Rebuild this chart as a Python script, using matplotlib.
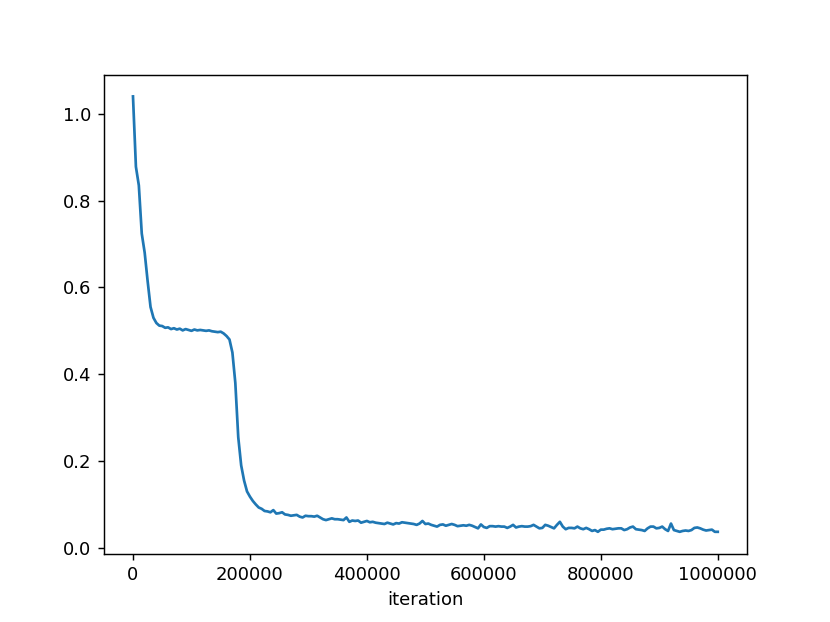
import numpy as np
import matplotlib
matplotlib.use('Agg')
import matplotlib.pyplot as plt

# iterations logged every 5000 steps
step = 5000

loss_start = [
    1.040, 0.878, 0.835, 0.724, 0.680, 0.615, 0.555, 0.530, 0.518, 0.512,
    0.511, 0.507, 0.508, 0.504, 0.506, 0.503, 0.505, 0.501, 0.504, 0.502,
    0.500, 0.503, 0.501, 0.502, 0.501, 0.500, 0.501, 0.499, 0.498, 0.497,
    0.498, 0.494, 0.488, 0.480, 0.450, 0.380, 0.255, 0.190, 0.155, 0.130,
    0.118, 0.108, 0.100, 0.093, 0.090, 0.085, 0.084, 0.082, 0.087, 0.079,
]

loss_tail = [
    0.080, 0.082, 0.077, 0.076, 0.074, 0.075, 0.076, 0.072, 0.070, 0.074,
    0.073, 0.073, 0.072, 0.074, 0.070, 0.066, 0.064, 0.066, 0.068, 0.066,
    0.066, 0.065, 0.064, 0.070, 0.060, 0.063, 0.062, 0.063, 0.058, 0.060,
    0.062, 0.059, 0.060, 0.058, 0.057, 0.056, 0.055, 0.058, 0.056, 0.054,
    0.057, 0.056, 0.059, 0.058, 0.057, 0.056, 0.055, 0.053, 0.056, 0.062,
    0.055, 0.056, 0.053, 0.051, 0.049, 0.053, 0.054, 0.051, 0.053, 0.055,
    0.053, 0.050, 0.051, 0.052, 0.051, 0.053, 0.051, 0.048, 0.045, 0.054,
    0.048, 0.046, 0.050, 0.050, 0.049, 0.050, 0.049, 0.049, 0.046, 0.049,
    0.053, 0.047, 0.049, 0.050, 0.049, 0.049, 0.050, 0.053, 0.049, 0.045,
    0.046, 0.053, 0.051, 0.048, 0.045, 0.053, 0.060, 0.049, 0.043, 0.046,
    0.046, 0.045, 0.049, 0.045, 0.043, 0.046, 0.043, 0.039, 0.041, 0.037,
    0.042, 0.042, 0.044, 0.045, 0.043, 0.044, 0.045, 0.045, 0.041, 0.043,
    0.047, 0.049, 0.043, 0.042, 0.041, 0.039, 0.045, 0.049, 0.049, 0.045,
    0.046, 0.049, 0.043, 0.039, 0.056, 0.041, 0.039, 0.037, 0.039, 0.040,
    0.039, 0.041, 0.046, 0.047, 0.045, 0.042, 0.040, 0.041, 0.042, 0.037,
    0.037,
]

loss = loss_start + loss_tail
iterations = np.arange(len(loss)) * step

fig, ax = plt.subplots(figsize=(830 / 130, 622 / 130), dpi=130)
ax.plot(iterations, loss)
ax.set_xlabel('iteration')
ax.set_xticks(np.arange(0, 1000001, 200000))
ax.ticklabel_format(axis='x', style='plain', useOffset=False)

fig.savefig('out.png', dpi=130)
